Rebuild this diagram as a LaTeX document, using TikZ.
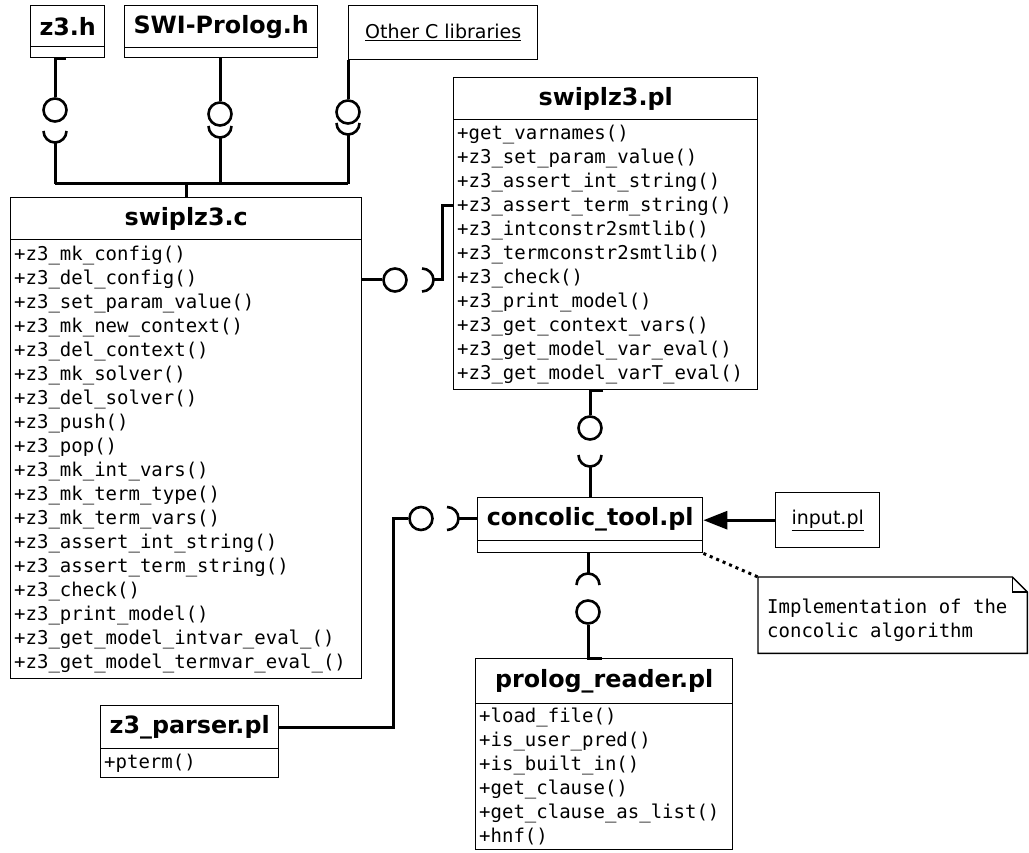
\documentclass[tikz,border=0pt]{standalone}
\usepackage{fontspec}
\setmainfont{DejaVu Sans}
\newfontfamily\monof{DejaVu Sans Mono}
\usetikzlibrary{arrows.meta,calc}
\newcommand\ttlf{\fontsize{23.8}{28}\selectfont\bfseries}
\newcommand\memf{\monof\fontsize{19}{24}\selectfont}
\newcommand\lblf{\fontsize{19}{23}\selectfont}
\begin{document}
\begin{tikzpicture}[x=1pt,y=-1pt,
  box/.style={draw=black, line width=1.4pt, anchor=north west, inner sep=0pt},
  ttl/.style={box, font=\ttlf, align=center},
  mem/.style={box, font=\memf, align=left, inner xsep=3.5pt, inner ysep=0pt},
  emp/.style={box},
  lbl/.style={box, font=\lblf},
  conn/.style={line width=3pt, line join=miter},
  lol/.style={circle, draw=black, line width=2.6pt, minimum size=23pt, inner sep=0pt},
  sockr/.style={line width=2.6pt}
]
\useasboundingbox (0,0) rectangle (1029,853);

% ---------- classes ----------
\node[ttl, minimum width=74pt, minimum height=41pt] (z3hT) at (30,5) {z3.h};
\node[emp, minimum width=74pt, minimum height=11pt] (z3hM) at (30,46) {};

\node[ttl, minimum width=193pt, minimum height=42pt] (swiT) at (124,5) {SWI-Prolog.h};
\node[emp, minimum width=193pt, minimum height=10pt] (swiM) at (124,47) {};

\node[lbl, minimum width=189pt, minimum height=54pt] (othC) at (348,5) {\underline{Other C libraries}};

\node[ttl, minimum width=351pt, minimum height=42pt] (cT) at (10,197) {swiplz3.c};
\node[mem, text width=344pt, minimum width=351pt, minimum height=439pt] (cM) at (10,239) {%
+z3\_mk\_config()\\
+z3\_del\_config()\\
+z3\_set\_param\_value()\\
+z3\_mk\_new\_context()\\
+z3\_del\_context()\\
+z3\_mk\_solver()\\
+z3\_del\_solver()\\
+z3\_push()\\
+z3\_pop()\\
+z3\_mk\_int\_vars()\\
+z3\_mk\_term\_type()\\
+z3\_mk\_term\_vars()\\
+z3\_assert\_int\_string()\\
+z3\_assert\_term\_string()\\
+z3\_check()\\
+z3\_print\_model()\\
+z3\_get\_model\_intvar\_eval\_()\\
+z3\_get\_model\_termvar\_eval\_()};

\node[ttl, minimum width=304pt, minimum height=42pt] (plT) at (453,77) {swiplz3.pl};
\node[mem, text width=297pt, minimum width=304pt, minimum height=270pt] (plM) at (453,119) {%
+get\_varnames()\\
+z3\_set\_param\_value()\\
+z3\_assert\_int\_string()\\
+z3\_assert\_term\_string()\\
+z3\_intconstr2smtlib()\\
+z3\_termconstr2smtlib()\\
+z3\_check()\\
+z3\_print\_model()\\
+z3\_get\_context\_vars()\\
+z3\_get\_model\_var\_eval()\\
+z3\_get\_model\_varT\_eval()};

\node[ttl, minimum width=225pt, minimum height=43pt] (concT) at (477,497) {concolic\_tool.pl};
\node[emp, minimum width=225pt, minimum height=12pt] (concM) at (477,540) {};

\node[lbl, minimum width=104pt, minimum height=55pt] (inp) at (775,492) {\underline{input.pl}};

\node[ttl, minimum width=257pt, minimum height=45pt] (prT) at (475,658) {prolog\_reader.pl};
\node[mem, text width=250pt, minimum width=257pt, minimum height=146pt] (prM) at (475,703) {%
+load\_file()\\
+is\_user\_pred()\\
+is\_built\_in()\\
+get\_clause()\\
+get\_clause\_as\_list()\\
+hnf()};

\node[ttl, minimum width=178pt, minimum height=43pt] (zpT) at (100,705) {z3\_parser.pl};
\node[mem, text width=171pt, minimum width=178pt, minimum height=29pt] (zpM) at (100,748) {+pterm()};

% ---------- note ----------
\node[anchor=north west, minimum width=269pt, minimum height=76pt, inner sep=0pt] (note) at (758,577) {};
\draw[line width=1.4pt] (note.north west) -- ($(note.north east)+(-15,0)$) -- ($(note.north east)+(0,15)$)
  -- (note.south east) -- (note.south west) -- cycle;
\draw[line width=1.4pt] ($(note.north east)+(-15,0)$) -- ($(note.north east)+(-15,15)$) -- ($(note.north east)+(0,15)$);
\node[anchor=west, font=\memf, align=left, inner sep=0pt] (notetxt) at (767,620) {Implementation of the\\concolic algorithm};

% ---------- top lollipops ----------
\node[lol] (lolA) at (55,110) {};
\node[lol] (lolB) at (220,114) {};
\node[lol] (lolC) at (348,112) {};
\coordinate (sA) at (55,131);
\coordinate (sB) at (220,126);
\coordinate (sC) at (348,123);
\coordinate (busL) at (55,184);
\coordinate (busR) at (348,184);

\draw[conn] ($(z3hM.south -| lolA)+(11,0)$) -- (z3hM.south -| lolA) -- (lolA.north);
\draw[conn] (swiM.south -| lolB) -- (lolB.north);
\draw[conn] (othC.south -| lolC) -- (lolC.north);

\draw[sockr] ([xshift=-11.5pt]sA) arc[start angle=180, end angle=360, radius=11.5pt];
\draw[sockr] ([xshift=-11.5pt]sB) arc[start angle=180, end angle=360, radius=11.5pt];
\draw[sockr] ([xshift=-11.5pt]sC) arc[start angle=180, end angle=360, radius=11.5pt];
\draw[conn] ([yshift=-11.5pt]sA) -- (sA |- busL);
\draw[conn] ([yshift=-11.5pt]sB) -- (sB |- busL);
\draw[conn] ([yshift=-11.5pt]sC) -- (sC |- busR);
\draw[conn] (busL) -- (busR);
\draw[conn] (cT.north |- busL) -- (cT.north);

% ---------- swiplz3.c -> swiplz3.pl ----------
\node[lol] (lolD) at (395,280) {};
\coordinate (sD) at (422,280);
\coordinate (jD) at (442,206);
\draw[conn] (cM.east |- lolD) -- (lolD.west);
\draw[sockr] ([yshift=11.5pt]sD) arc[start angle=90, end angle=-90, radius=11.5pt];
\draw[conn] ([xshift=11.5pt]sD) -| (jD) -- (jD -| plM.west);

% ---------- swiplz3.pl -> concolic ----------
\node[lol] (lolE) at (590,428) {};
\coordinate (sE) at (590,455);
\draw[conn] ($(plM.south -| lolE)+(13,0)$) -- (plM.south -| lolE) -- (lolE.north);
\draw[sockr] ([xshift=-11.5pt]sE) arc[start angle=180, end angle=360, radius=11.5pt];
\draw[conn] ([yshift=-11.5pt]sE) -- (sE |- concT.north);

% ---------- concolic -> z3_parser ----------
\node[lol] (lolG) at (421,518.5) {};
\coordinate (sF) at (447,518.5);
\coordinate (jG) at (393,518.5);
\draw[sockr] ([yshift=11.5pt]sF) arc[start angle=90, end angle=-90, radius=11.5pt];
\draw[conn] ([xshift=11.5pt]sF) -- (sF -| concT.west);
\draw[conn] (lolG.west) -- (jG) |- (zpT.east);

% ---------- concolic -> prolog_reader ----------
\coordinate (sH) at (588,585);
\node[lol] (lolI) at (588,612) {};
\draw[sockr] ([xshift=-11.5pt]sH) arc[start angle=180, end angle=0, radius=11.5pt];
\draw[conn] (concM.south -| sH) -- ([yshift=11.5pt]sH);
\draw[conn] (lolI.south) -- (prT.north -| lolI) -- ++(14,0);

% ---------- input.pl -> concolic ----------
\draw[conn, -{Triangle[length=24pt,width=18pt]}] (inp.west) -- (inp.west -| concT.east);

% ---------- note anchor ----------
\draw[line width=3pt, dash pattern=on 3pt off 4pt] (concM.south east) -- (note.north west);
\end{tikzpicture}
\end{document}
